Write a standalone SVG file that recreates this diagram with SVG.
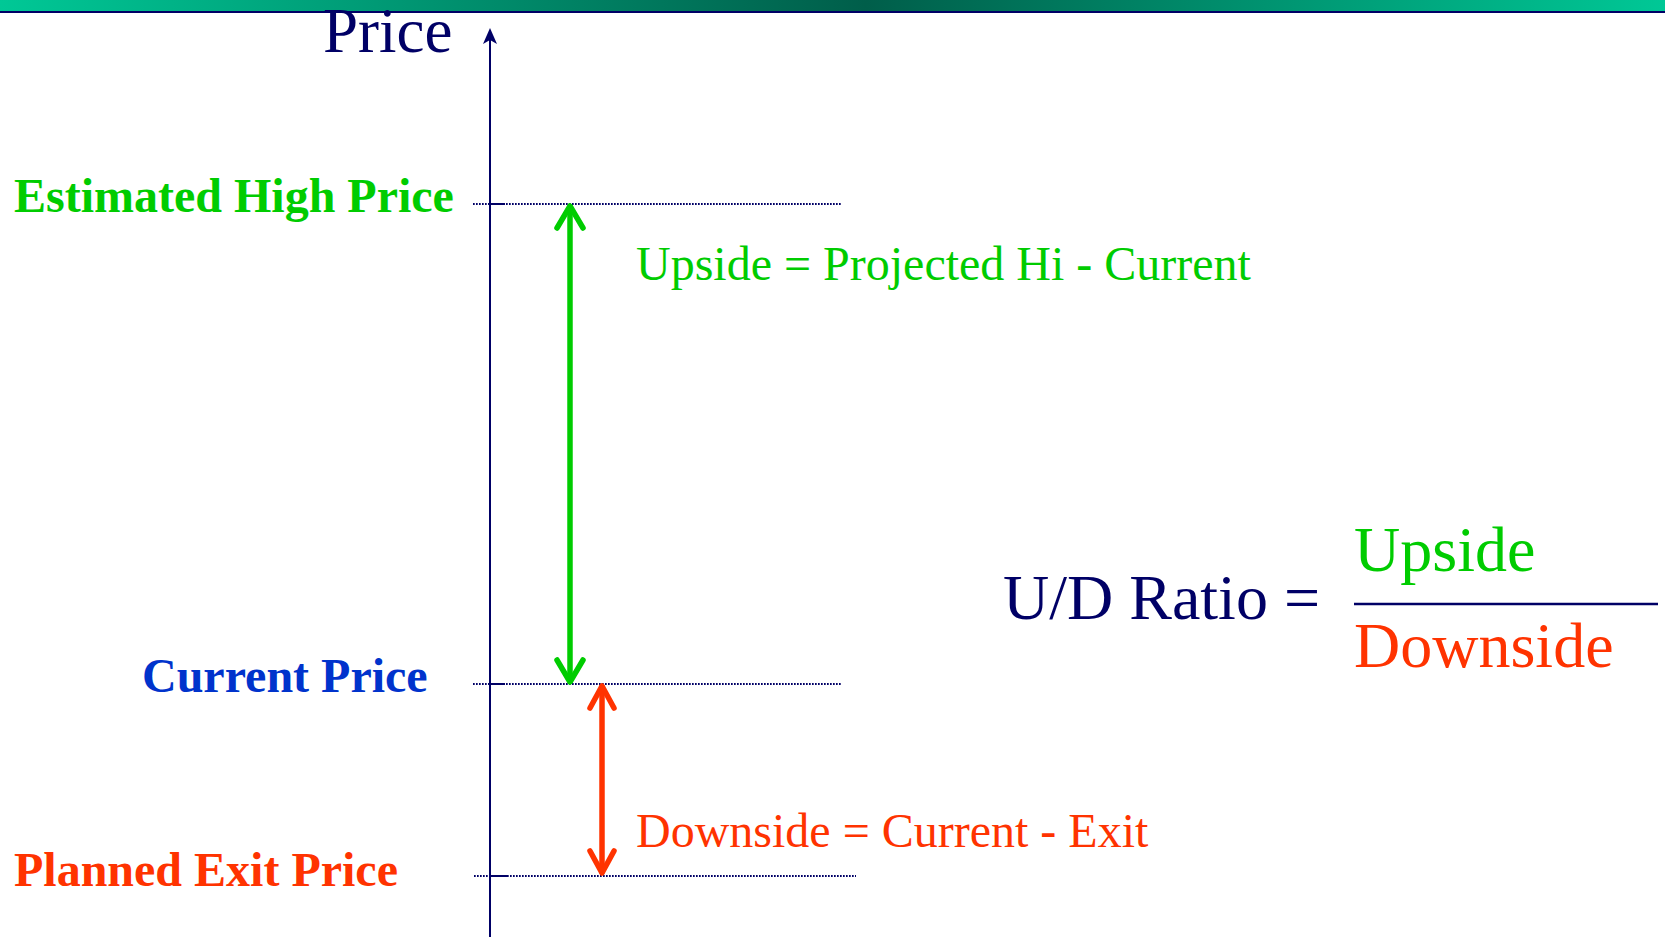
<svg xmlns="http://www.w3.org/2000/svg" width="1665" height="937" viewBox="0 0 1665 937">
<defs>
<linearGradient id="bar" x1="0" y1="0" x2="1" y2="0">
<stop offset="0" stop-color="#00C896"/>
<stop offset="0.52" stop-color="#005E4A"/>
<stop offset="1" stop-color="#00C896"/>
</linearGradient>
<style>
.lbl{font-family:"Liberation Serif","Times New Roman",serif;font-weight:bold;font-size:48px}
.reg{font-family:"Liberation Serif","Times New Roman",serif;font-size:48px}
.big{font-family:"Liberation Serif","Times New Roman",serif;font-size:64px}
.dot{stroke:#000066;stroke-width:2;stroke-dasharray:1.7 1.3;fill:none}
.tick{stroke:#000066;stroke-width:2;fill:none}
.g{stroke:#00CC00;stroke-width:5.5;fill:none;stroke-linecap:round;stroke-linejoin:round}
.r{stroke:#FF3300;stroke-width:5.5;fill:none;stroke-linecap:round;stroke-linejoin:round}
</style>
</defs>
<rect x="0" y="0" width="1665" height="937" fill="#FFFFFF"/>
<rect x="0" y="0" width="1665" height="11" fill="url(#bar)"/>
<rect x="0" y="11" width="1665" height="2" fill="#000066"/>
<g id="axis">
<line x1="490" y1="40" x2="490" y2="937" stroke="#000066" stroke-width="2"/>
<path d="M490,28 L497,44 L490,40 L483,44 Z" fill="#000066"/>
<text x="323" y="52" font-family="Liberation Serif, Times New Roman, serif" font-size="63" fill="#000066">Price</text>
</g>
<g id="level-high">
<line class="dot" x1="473" y1="204" x2="842" y2="204"/>
<line class="tick" x1="490" y1="204" x2="505" y2="204"/>
<text class="lbl" x="14" y="212" fill="#00CC00">Estimated High Price</text>
</g>
<g id="level-current">
<line class="dot" x1="473" y1="684" x2="842" y2="684"/>
<line class="tick" x1="490" y1="684" x2="505" y2="684"/>
<text class="lbl" x="142" y="692" fill="#0033CC">Current Price</text>
</g>
<g id="level-exit">
<line class="dot" x1="474" y1="876" x2="856" y2="876"/>
<line class="tick" x1="490" y1="876" x2="507" y2="876"/>
<text class="lbl" x="14" y="886" fill="#FF3300">Planned Exit Price</text>
</g>
<g id="connectors">
<g id="upside-arrow">
<line class="g" x1="570" y1="207" x2="570" y2="681"/>
<polyline class="g" points="557,228 570,206 583,228"/>
<polyline class="g" points="557,660 570,682 583,660"/>
</g>
<g id="downside-arrow">
<line class="r" x1="602" y1="687" x2="602" y2="872"/>
<polyline class="r" points="590,708 602,686 614,708"/>
<polyline class="r" points="590,851 602,873 614,851"/>
</g>
</g>
<g id="upside-label">
<text class="reg" x="636" y="280" fill="#00CC00">Upside = Projected Hi - Current</text>
</g>
<g id="downside-label">
<text class="reg" x="636" y="847" fill="#FF3300">Downside = Current - Exit</text>
</g>
<g id="ratio">
<text class="big" x="1003" y="619" fill="#000066">U/D Ratio =</text>
<text class="big" x="1354" y="571" fill="#00CC00">Upside</text>
<line x1="1354" y1="604" x2="1658" y2="604" stroke="#000066" stroke-width="2.5"/>
<text class="big" x="1354" y="667" fill="#FF3300">Downside</text>
</g>
</svg>
